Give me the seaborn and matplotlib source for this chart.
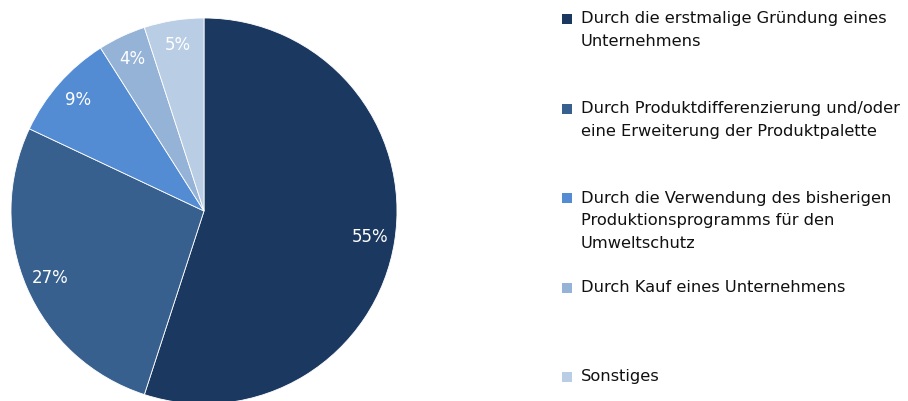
import matplotlib
matplotlib.use("Agg")
import matplotlib.pyplot as plt
import seaborn as sns
from matplotlib.patches import Rectangle

categories = [
    "Durch die erstmalige Gründung eines\nUnternehmens",
    "Durch Produktdifferenzierung und/oder\neine Erweiterung der Produktpalette",
    "Durch die Verwendung des bisherigen\nProduktionsprogramms für den\nUmweltschutz",
    "Durch Kauf eines Unternehmens",
    "Sonstiges",
]
values = [55, 27, 9, 4, 5]
colors = ["#1b3860", "#37608f", "#538cd3", "#95b3d7", "#b9cde5"]

sns.set_theme(style="white")
plt.rcParams["font.family"] = ["DejaVu Sans"]

W, H = 908, 401
fig = plt.figure(figsize=(W / 100, H / 100), dpi=100)
fig.patch.set_facecolor("white")

cx, cy, r = 204, 211, 193
ax = fig.add_axes([(cx - r) / W, (H - cy - r) / H, 2 * r / W, 2 * r / H])
wedges, texts, autotexts = ax.pie(
    values,
    colors=colors,
    startangle=90,
    counterclock=False,
    radius=1,
    autopct=lambda p: f"{p:.0f}%",
    pctdistance=0.87,
    wedgeprops=dict(edgecolor="white", linewidth=0.6),
    textprops=dict(color="white", fontsize=12),
)
ax.set_xlim(-1, 1)
ax.set_ylim(-1, 1)
ax.set_aspect("equal")
ax.axis("off")

fs = 11.7
first_y = 19
step = 89.5
for i, (lab, col) in enumerate(zip(categories, colors)):
    y = first_y + i * step
    fig.patches.append(Rectangle(((567 - 5) / W, (H - y - 5) / H), 10 / W, 10 / H,
                                 transform=fig.transFigure, facecolor=col,
                                 edgecolor="none"))
    for j, line in enumerate(lab.split("\n")):
        fig.text(581 / W, (H - y - 23 * j) / H, line, fontsize=fs, color="#111111",
                 va="center", ha="left")

fig.savefig("out.png", dpi=100, facecolor="white")
